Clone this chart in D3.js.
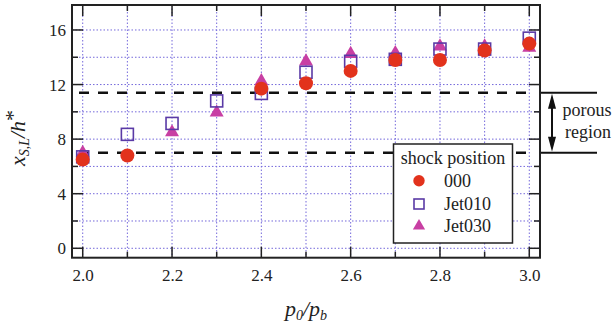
<!DOCTYPE html>
<html>
<head>
<meta charset="utf-8">
<script src="https://cdn.jsdelivr.net/npm/d3@7"></script>
<style>
	body { margin: 0; background: #fff; }
	svg { display: block; }
</style>
</head>
<body>
<div id="chart"></div>
<script>
// p0/pb values on the x axis
const pressureRatio = [2.0, 2.1, 2.2, 2.3, 2.4, 2.5, 2.6, 2.7, 2.8, 2.9, 3.0];
// shock position x_SL/h* for each case (null = no point)
const shock000 = [6.5, 6.8, null, null, 11.7, 12.1, 13.0, 13.8, 13.8, 14.5, 15.0];
const jet010 = [6.7, 8.35, 9.15, 10.8, 11.35, 12.9, 13.7, 13.85, 14.6, 14.6, 15.4];
const jet030 = [7.0, null, 8.5, 9.95, 12.25, 13.7, 14.25, 14.3, 14.8, 14.8, 14.7];
const seriesNames = ['000', 'Jet010', 'Jet030'];
const xTicks = [2.0, 2.2, 2.4, 2.6, 2.8, 3.0];
const yTicks = [0, 4, 8, 12, 16];
// porous region bounds
const porousBounds = [11.4, 7.0];

const width = 612, height = 322;
const plot = {left: 72, right: 540, top: 5, bottom: 257.7};
const colors = {red: '#e2321c', purple: '#5a3aa6', magenta: '#c83fa3', grid: '#7468db', ink: '#222'};
const serif = "'Liberation Serif', 'Times New Roman', Tinos, 'DejaVu Serif', serif";

const svg = d3.select('#chart')
	.append('svg')
	.attr('width', width)
	.attr('height', height)
	.attr('font-family', serif);

const xScale = d3.scaleLinear()
	.domain([1.976, 3.024])
	.range([plot.left, plot.right]);

const yScale = d3.scaleLinear()
	.domain([-0.69, 17.83])
	.range([plot.bottom, plot.top]);

// dotted grid
const gridX = d3.range(20, 31).map(d => d / 10);
const gridY = d3.range(0, 17, 2);

svg.append('g')
	.selectAll('line')
	.data(gridX)
	.enter()
	.append('line')
		.attr('x1', d => xScale(d))
		.attr('x2', d => xScale(d))
		.attr('y1', plot.top)
		.attr('y2', plot.bottom)
		.attr('stroke', colors.grid)
		.attr('stroke-width', 1)
		.attr('stroke-dasharray', '1.5,2');

svg.append('g')
	.selectAll('line')
	.data(gridY)
	.enter()
	.append('line')
		.attr('x1', plot.left)
		.attr('x2', plot.right)
		.attr('y1', d => yScale(d))
		.attr('y2', d => yScale(d))
		.attr('stroke', colors.grid)
		.attr('stroke-width', 1)
		.attr('stroke-dasharray', '1.5,2');

// axes with inward ticks
const tickLen = d => (xTicks.some(t => Math.abs(t - d) < 1e-6) ? 11 : 6);
const yTickLen = d => (d % 4 === 0 ? 11 : 6);

svg.append('g')
	.attr('transform', `translate(0, ${plot.bottom})`)
	.call(d3.axisBottom(xScale).tickValues(xTicks).tickSize(0).tickPadding(11).tickFormat(d3.format('.1f')))
	.call(g => g.attr('font-family', serif).attr('font-size', 17))
	.call(g => g.select('.domain').remove())
	.call(g => g.selectAll('text').attr('fill', colors.ink));

svg.append('g')
	.attr('transform', `translate(${plot.left}, 0)`)
	.call(d3.axisLeft(yScale).tickValues(yTicks).tickSize(0).tickPadding(6))
	.call(g => g.attr('font-family', serif).attr('font-size', 17))
	.call(g => g.select('.domain').remove())
	.call(g => g.selectAll('text').attr('fill', colors.ink));

const ticks = svg.append('g').attr('stroke', colors.ink).attr('stroke-width', 1.5);
gridX.forEach(d => {
	ticks.append('line').attr('x1', xScale(d)).attr('x2', xScale(d))
		.attr('y1', plot.bottom).attr('y2', plot.bottom - tickLen(d));
	ticks.append('line').attr('x1', xScale(d)).attr('x2', xScale(d))
		.attr('y1', plot.top).attr('y2', plot.top + tickLen(d));
});
gridY.forEach(d => {
	ticks.append('line').attr('x1', plot.left).attr('x2', plot.left + yTickLen(d))
		.attr('y1', yScale(d)).attr('y2', yScale(d));
	ticks.append('line').attr('x1', plot.right).attr('x2', plot.right - yTickLen(d))
		.attr('y1', yScale(d)).attr('y2', yScale(d));
});

// porous region dashed lines + outside markers
porousBounds.forEach(v => {
	svg.append('line')
		.attr('x1', 79).attr('x2', 531)
		.attr('y1', yScale(v)).attr('y2', yScale(v))
		.attr('stroke', '#111')
		.attr('stroke-width', 2.5)
		.attr('stroke-dasharray', '10,9');
	svg.append('line')
		.attr('x1', plot.right).attr('x2', 597)
		.attr('y1', yScale(v)).attr('y2', yScale(v))
		.attr('stroke', '#111')
		.attr('stroke-width', 2);
});

// double arrow
const arrowX = 552;
const yTopB = yScale(porousBounds[0]), yBotB = yScale(porousBounds[1]);
svg.append('line')
	.attr('x1', arrowX).attr('x2', arrowX)
	.attr('y1', yTopB + 10).attr('y2', yBotB - 10)
	.attr('stroke', '#111').attr('stroke-width', 2);
svg.append('path')
	.attr('d', `M${arrowX},${yTopB + 1} L${arrowX - 4},${yTopB + 16} L${arrowX + 4},${yTopB + 16} Z`)
	.attr('fill', '#111');
svg.append('path')
	.attr('d', `M${arrowX},${yBotB - 1} L${arrowX - 4},${yBotB - 16} L${arrowX + 4},${yBotB - 16} Z`)
	.attr('fill', '#111');
svg.append('text')
	.attr('x', 587).attr('y', yTopB + 23)
	.attr('text-anchor', 'middle')
	.attr('font-size', 18).attr('fill', colors.ink)
	.text('porous');
svg.append('text')
	.attr('x', 588).attr('y', yTopB + 45)
	.attr('text-anchor', 'middle')
	.attr('font-size', 18).attr('fill', colors.ink)
	.text('region');

// data points
const points = (values) => pressureRatio
	.map((x, i) => ({x, y: values[i]}))
	.filter(d => d.y !== null);

const triangle = d3.symbol().type(d3.symbolTriangle).size(85);

svg.append('g')
	.selectAll('path')
	.data(points(jet030))
	.enter()
	.append('path')
		.attr('d', triangle)
		.attr('transform', d => `translate(${xScale(d.x)}, ${yScale(d.y)})`)
		.attr('fill', colors.magenta);

svg.append('g')
	.selectAll('rect')
	.data(points(jet010))
	.enter()
	.append('rect')
		.attr('x', d => xScale(d.x) - 6)
		.attr('y', d => yScale(d.y) - 6)
		.attr('width', 12)
		.attr('height', 12)
		.attr('fill', 'none')
		.attr('stroke', colors.purple)
		.attr('stroke-width', 1.6);

svg.append('g')
	.selectAll('circle')
	.data(points(shock000))
	.enter()
	.append('circle')
		.attr('cx', d => xScale(d.x))
		.attr('cy', d => yScale(d.y))
		.attr('r', 7)
		.attr('fill', colors.red);

// frame
svg.append('rect')
	.attr('x', plot.left).attr('y', plot.top)
	.attr('width', plot.right - plot.left)
	.attr('height', plot.bottom - plot.top)
	.attr('fill', 'none')
	.attr('stroke', colors.ink)
	.attr('stroke-width', 2);

// legend
const legend = svg.append('g').attr('transform', 'translate(393.5, 144)');
legend.append('rect')
	.attr('width', 119).attr('height', 99)
	.attr('fill', '#fff')
	.attr('stroke', colors.ink)
	.attr('stroke-width', 1.5);
legend.append('text')
	.attr('x', 59.5).attr('y', 20)
	.attr('text-anchor', 'middle')
	.attr('font-size', 18).attr('fill', colors.ink)
	.text('shock position');

const rowY = [36.7, 60, 82];
const rows = legend.selectAll('.row')
	.data(seriesNames)
	.enter()
	.append('g')
	.attr('class', 'row')
	.attr('transform', (d, i) => `translate(0, ${rowY[i]})`);

rows.append('text')
	.attr('x', 50.5).attr('y', 6)
	.attr('font-size', 18).attr('fill', colors.ink)
	.text(d => d);

rows.filter((d, i) => i === 0).append('circle')
	.attr('cx', 25.5).attr('cy', 0).attr('r', 5.7).attr('fill', colors.red);
rows.filter((d, i) => i === 1).append('rect')
	.attr('x', 20.5).attr('y', -5).attr('width', 10).attr('height', 10)
	.attr('fill', 'none').attr('stroke', colors.purple).attr('stroke-width', 1.6);
rows.filter((d, i) => i === 2).append('path')
	.attr('d', d3.symbol().type(d3.symbolTriangle).size(65))
	.attr('transform', 'translate(25.5, 0)')
	.attr('fill', colors.magenta);

// axis titles
const xLabel = svg.append('text')
	.attr('x', 306).attr('y', 316)
	.attr('text-anchor', 'middle')
	.attr('font-size', 22).attr('font-style', 'italic').attr('fill', colors.ink);
xLabel.append('tspan').text('p');
xLabel.append('tspan').attr('font-size', 14).attr('dy', 4).text('0');
xLabel.append('tspan').attr('dy', -4).text('/p');
xLabel.append('tspan').attr('font-size', 14).attr('dy', 4).text('b');

const yLabel = svg.append('text')
	.attr('transform', 'translate(25, 138) rotate(-90)')
	.attr('text-anchor', 'middle')
	.attr('font-size', 22).attr('font-style', 'italic').attr('fill', colors.ink);
yLabel.append('tspan').text('x');
yLabel.append('tspan').attr('font-size', 14).attr('dy', 4).text('S,L');
yLabel.append('tspan').attr('dy', -4).text('/h');
yLabel.append('tspan').attr('font-style', 'normal').attr('dy', -5).text('*');
</script>
</body>
</html>
